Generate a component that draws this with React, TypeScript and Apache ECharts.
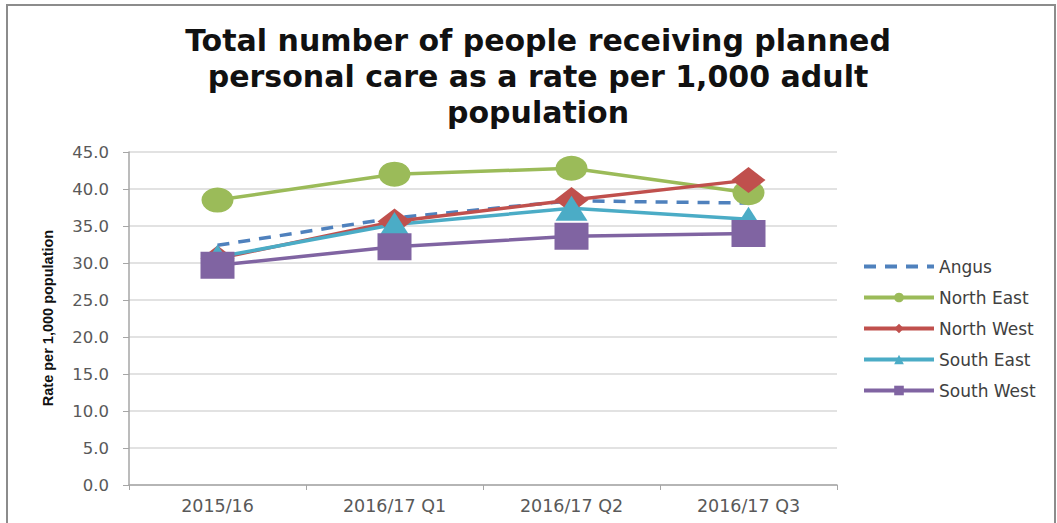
import React, { useEffect, useRef } from "react";
import * as echarts from "echarts";

// Reporting periods along the x axis
const categories = ["2015/16", "2016/17 Q1", "2016/17 Q2", "2016/17 Q3"];

// Rate per 1,000 adult population, by locality
const angus = [32.4, 36.1, 38.4, 38.1];
const northEast = [38.5, 42.0, 42.8, 39.5];
const northWest = [30.6, 35.6, 38.5, 41.2];
const southEast = [30.8, 35.2, 37.4, 35.9];
const southWest = [29.7, 32.2, 33.6, 34.0];

const yMin = 0;
const yMax = 45;
const yStep = 5;

const titleLines = [
  "Total number of people receiving planned",
  "personal care as a rate per 1,000 adult",
  "population",
];
const yAxisTitle = "Rate per 1,000 population";

const FONT = "DejaVu Sans";

export default function App() {
  const ref = useRef<HTMLDivElement>(null);

  useEffect(() => {
    if (!ref.current) return;
    const chart = echarts.init(ref.current, null, { renderer: "svg" });

    const lineSeries = (
      name: string,
      data: number[],
      color: string,
      symbol: string,
      symbolSize: number[]
    ) => ({
      name,
      type: "line",
      data,
      symbol,
      symbolSize,
      showSymbol: true,
      lineStyle: { color, width: 3.5 },
      itemStyle: { color, borderWidth: 0 },
      z: 3,
    });

    chart.setOption({
      animation: false,
      backgroundColor: "#ffffff",
      title: {
        text: titleLines.join("\n"),
        left: 533,
        top: 17,
        textAlign: "center",
        textStyle: {
          fontFamily: FONT,
          fontSize: 30,
          fontWeight: "bold",
          color: "#111111",
          lineHeight: 36,
        },
      },
      legend: {
        orient: "vertical",
        left: 862,
        top: 258,
        padding: 0,
        itemWidth: 70,
        itemHeight: 12,
        itemGap: 14,
        lineStyle: { width: 4 },
        textStyle: { fontFamily: FONT, fontSize: 17, color: "#404040" },
        data: [
          { name: "Angus", itemStyle: { color: "rgba(0,0,0,0)", opacity: 0 } },
          "North East",
          "North West",
          "South East",
          "South West",
        ],
      },
      grid: { left: 129, top: 152, width: 708, height: 333 },
      xAxis: {
        type: "category",
        data: categories,
        boundaryGap: true,
        axisLine: { lineStyle: { color: "#a6a6a6", width: 1.5 } },
        axisTick: { show: true, length: 5, lineStyle: { color: "#a6a6a6" } },
        axisLabel: {
          margin: 12,
          fontFamily: FONT,
          fontSize: 17.5,
          color: "#595959",
        },
      },
      yAxis: {
        type: "value",
        min: yMin,
        max: yMax,
        interval: yStep,
        axisLine: { show: true, lineStyle: { color: "#a6a6a6", width: 1.5 } },
        axisTick: { show: true, length: 6, lineStyle: { color: "#a6a6a6" } },
        axisLabel: {
          margin: 20,
          fontFamily: FONT,
          fontSize: 16.5,
          color: "#595959",
          formatter: (v: number) => v.toFixed(1),
        },
        splitLine: { lineStyle: { color: "#d9d9d9", width: 1.5 } },
      },
      graphic: [
        {
          type: "rect",
          shape: { x: 7, y: 5, width: 1048, height: 540 },
          style: { fill: "none", stroke: "#8c8c8c", lineWidth: 2 },
          silent: true,
        },
        {
          type: "text",
          x: 48,
          y: 318,
          rotation: Math.PI / 2,
          style: {
            text: yAxisTitle,
            fontFamily: "Liberation Sans",
            fontWeight: "bold",
            fontSize: 14.5,
            fill: "#111111",
            align: "center",
            verticalAlign: "middle",
          },
        },
      ],
      series: [
        {
          name: "Angus",
          type: "line",
          data: angus,
          symbol: "none",
          lineStyle: { color: "#4f81bd", width: 3.5, type: [12, 9] },
          itemStyle: { color: "#4f81bd" },
          z: 2,
        },
        lineSeries("North East", northEast, "#9bbb59", "circle", [32, 25]),
        lineSeries("North West", northWest, "#c0504d", "diamond", [34, 26]),
        lineSeries("South East", southEast, "#4bacc6", "triangle", [32, 25]),
        lineSeries("South West", southWest, "#8064a2", "rect", [34, 27]),
      ],
    });

    return () => chart.dispose();
  }, []);

  return (
    <div
      ref={ref}
      style={{ position: "fixed", left: 0, top: 0, width: 1057, height: 523 }}
    />
  );
}
